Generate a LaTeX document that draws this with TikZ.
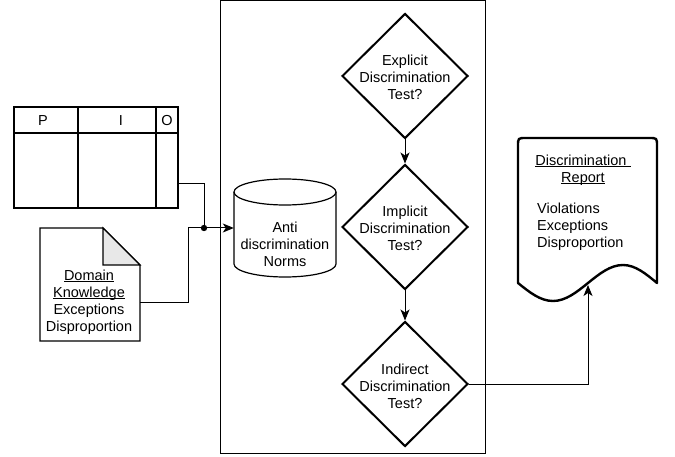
\documentclass[tikz,border=0pt]{standalone}
\usepackage{fontspec}
\setmainfont{Liberation Sans}
\usetikzlibrary{shapes.geometric,arrows.meta,calc}
\newcommand\myul[1]{\leavevmode\setbox0\hbox{#1}\rlap{\rule[-2pt]{\wd0}{0.8pt}}\box0}
\begin{document}
\begin{tikzpicture}[x=1pt,y=-1pt,
  txt/.style={font=\fontsize{14.5}{17}\selectfont, inner sep=0pt, align=center},
  dia/.style={diamond, draw, line width=2pt, aspect=1, minimum width=126pt, minimum height=125pt, inner sep=0pt},
  thin/.style={line width=1.2pt},
  conn/.style={line width=1pt},
  arr/.style={line width=1pt, -{Stealth[length=11pt,width=9pt,inset=3pt]}},
  box/.style={inner sep=0pt}
]
\useasboundingbox (0,0) rectangle (675,457);

% container
\node[box, draw, line width=1pt, minimum width=265pt, minimum height=452pt] (cont) at (352.5,227) {};

% PIO table
\node[box, draw, thin, minimum width=164pt, minimum height=101pt] (pio) at (96,157.5) {};
\draw[thin] (14,133) -- (178,133);
\draw[thin] (78,107) -- (78,208);
\draw[thin] (156,107) -- (156,208);
\node[txt] (tp) at (43,121) {P};
\node[txt] (ti) at (121,121) {I};
\node[txt] (to) at (167,121) {O};

% domain knowledge document
\node[box, minimum width=100pt, minimum height=113pt] (dk) at (90,284.5) {};
\draw[thin] (40,228) -- (103,228) -- (140,265) -- (140,341) -- (40,341) -- cycle;
\draw[thin, fill=black!9] (103,228) -- (103,265) -- (140,265) -- cycle;
\node[txt] (dkt) at (89,302) {\myul{Domain}\\\myul{Knowledge}\\Exceptions\\Disproportion};

% junction
\coordinate (j) at (204,228);
\fill (j) circle (3.2pt);

% cylinder
\node[box, minimum width=102pt, minimum height=98pt] (cyl) at (285,228) {};
\draw[thin] (234,192) -- (234,264) arc[start angle=180, end angle=360, x radius=51pt, y radius=13pt] -- (336,192);
\draw[thin] (285,192) ellipse [x radius=51pt, y radius=13pt];
\node[txt] (cylt) at (285,244) {Anti\\discrimination\\Norms};

% diamonds
\node[dia] (d1) at (405,76) {};
\node[dia] (d2) at (405,227) {};
\node[dia] (d3) at (405,384) {};
\node[txt] (d1t) at (405,77) {Explicit\\Discrimination\\Test?};
\node[txt] (d2t) at (405,228) {Implicit\\Discrimination\\Test?};
\node[txt] (d3t) at (405,386) {Indirect\\Discrimination\\Test?};

% report
\node[box, minimum width=139pt, minimum height=163pt] (rep) at (587.5,219.5) {};
\draw[line width=2.4pt, line join=round] (518,283) -- (518,146) .. controls (518,138) .. (526,138) -- (649,138) .. controls (657,138) .. (657,146) -- (657,283)
  sin (623,265) cos (588,283) sin (553,301) cos (518,283) -- cycle;
\node[txt] (rh) at (583,170) {\myul{Discrimination\ }\\\myul{Report}};
\node[txt, align=left, anchor=west] (rl) at (537,226.5) {Violations\\Exceptions\\Disproportion};
\coordinate (rb) at (588,285);

% connectors
\draw[conn] ([yshift=25pt]pio.south east) -| (j);
\draw[conn] ([yshift=-17.5pt]dk.east) -| ($(j)+(-16,0)$) -- (j);
\draw[arr] (j) -- (cyl.west);
\draw[arr] (d1.south) -- (d2.north);
\draw[arr] (d2.south) -- (d3.north);
\draw[arr] (d3.east) -| (rb);
\end{tikzpicture}
\end{document}
